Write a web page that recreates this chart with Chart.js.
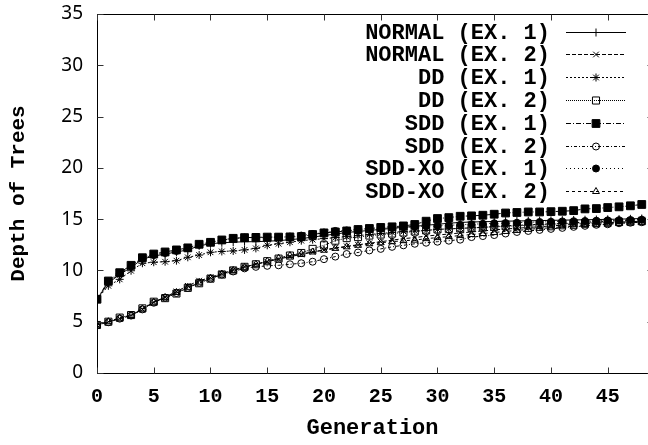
<!DOCTYPE html>
<html>
<head>
<meta charset="utf-8">
<script src="https://cdn.jsdelivr.net/npm/chart.js@4.4.1/dist/chart.umd.min.js"></script>
<style>
  html, body { margin: 0; padding: 0; background: #fff; }
  #wrap { width: 648px; height: 445px; }
</style>
</head>
<body>
<div id="wrap"><canvas id="depth-chart"></canvas></div>
<script>
var generations = [0, 1, 2, 3, 4, 5, 6, 7, 8, 9, 10, 11, 12, 13, 14, 15, 16, 17, 18, 19,
  20, 21, 22, 23, 24, 25, 26, 27, 28, 29, 30, 31, 32, 33, 34, 35, 36, 37, 38, 39,
  40, 41, 42, 43, 44, 45, 46, 47, 48];

var seriesNames = ['NORMAL (EX. 1)', 'NORMAL (EX. 2)', 'DD (EX. 1)', 'DD (EX. 2)',
  'SDD (EX. 1)', 'SDD (EX. 2)', 'SDD-XO (EX. 1)', 'SDD-XO (EX. 2)'];

var normal1 = [7.19, 8.8, 9.6, 10.3, 11.1, 11.4, 11.6, 11.8, 12.0, 12.4, 12.6, 12.7, 12.75, 12.8, 12.8, 12.85, 12.9, 13.0, 13.1, 13.25,
  13.4, 13.55, 13.7, 13.8, 13.9, 14.0, 14.1, 14.2, 14.3, 14.4, 14.5, 14.6, 14.68, 14.72, 14.75, 14.77, 14.8, 14.82, 14.84, 14.86,
  14.88, 14.9, 14.92, 14.94, 14.96, 14.98, 15.0, 15.03, 15.06];
var normal2 = [4.68, 5.0, 5.3, 5.6, 6.2, 6.9, 7.4, 7.95, 8.5, 9.0, 9.3, 9.7, 10.05, 10.35, 10.6, 10.85, 11.1, 11.35, 11.55, 11.8,
  12.0, 12.2, 12.35, 12.5, 12.65, 12.8, 12.95, 13.1, 13.2, 13.35, 13.45, 13.55, 13.65, 13.75, 13.85, 13.95, 14.05, 14.1, 14.2, 14.25,
  14.35, 14.4, 14.5, 14.55, 14.6, 14.65, 14.7, 14.75, 14.8];
var dd1 = [7.19, 8.5, 9.13, 9.97, 10.7, 10.8, 10.85, 10.95, 11.28, 11.5, 11.77, 11.85, 11.9, 12.0, 12.15, 12.45, 12.6, 12.75, 12.9, 13.0,
  13.1, 13.2, 13.3, 13.4, 13.5, 13.6, 13.7, 13.8, 13.85, 13.9, 14.0, 14.05, 14.1, 14.15, 14.2, 14.3, 14.35, 14.4, 14.45, 14.5,
  14.55, 14.6, 14.65, 14.7, 14.75, 14.8, 14.85, 14.9, 14.95];
var dd2 = [4.68, 5.0, 5.4, 5.65, 6.3, 6.95, 7.3, 7.75, 8.3, 8.75, 9.2, 9.6, 10.0, 10.35, 10.6, 10.9, 11.15, 11.45, 11.7, 12.1,
  12.45, 12.9, 13.15, 13.25, 13.4, 13.5, 13.6, 13.7, 13.8, 13.9, 14.0, 14.05, 14.1, 14.15, 14.2, 14.25, 14.3, 14.35, 14.4, 14.45,
  14.5, 14.55, 14.6, 14.62, 14.65, 14.7, 14.72, 14.75, 14.8];
var sdd1 = [7.19, 8.97, 9.78, 10.5, 11.24, 11.6, 11.8, 12.0, 12.2, 12.55, 12.74, 12.97, 13.13, 13.2, 13.22, 13.25, 13.25, 13.27, 13.3, 13.5,
  13.66, 13.75, 13.85, 13.99, 14.09, 14.19, 14.25, 14.34, 14.48, 14.8, 15.06, 15.15, 15.28, 15.32, 15.38, 15.48, 15.6, 15.65, 15.7, 15.7,
  15.73, 15.77, 15.83, 16.0, 16.03, 16.13, 16.2, 16.3, 16.43];
var sdd2 = [4.68, 4.95, 5.3, 5.6, 6.2, 6.85, 7.35, 7.8, 8.3, 8.8, 9.2, 9.6, 9.9, 10.2, 10.35, 10.45, 10.5, 10.6, 10.7, 10.85,
  11.1, 11.35, 11.6, 11.75, 11.95, 12.1, 12.3, 12.45, 12.6, 12.7, 12.8, 12.9, 13.0, 13.25, 13.35, 13.45, 13.6, 13.75, 13.85, 13.95,
  14.05, 14.15, 14.25, 14.35, 14.45, 14.5, 14.6, 14.65, 14.7];
var sddxo1 = [7.19, 8.9, 9.7, 10.4, 11.2, 11.5, 11.7, 11.9, 12.15, 12.5, 12.75, 12.95, 13.1, 13.2, 13.2, 13.2, 13.25, 13.3, 13.4, 13.55,
  13.7, 13.85, 13.9, 14.0, 14.05, 14.1, 14.15, 14.2, 14.25, 14.3, 14.35, 14.4, 14.45, 14.5, 14.55, 14.6, 14.62, 14.65, 14.7, 14.72,
  14.75, 14.78, 14.8, 14.82, 14.85, 14.88, 14.9, 14.92, 14.95];
var sddxo2 = [4.68, 5.0, 5.35, 5.6, 6.25, 6.9, 7.35, 7.85, 8.35, 8.85, 9.25, 9.65, 10.0, 10.3, 10.6, 10.9, 11.2, 11.45, 11.6, 11.8,
  11.97, 12.15, 12.3, 12.45, 12.6, 12.7, 12.8, 12.9, 12.95, 13.1, 13.2, 13.3, 13.4, 13.5, 13.6, 13.7, 13.8, 13.9, 14.0, 14.1,
  14.15, 14.25, 14.3, 14.4, 14.45, 14.5, 14.6, 14.65, 14.7];

var xTicks = [0, 5, 10, 15, 20, 25, 30, 35, 40, 45];
var yTicks = [0, 5, 10, 15, 20, 25, 30, 35];

var monoFont = '"Liberation Mono", "DejaVu Sans Mono", monospace';

function points(values) {
  return generations.map(function (g, i) { return { x: g, y: values[i] }; });
}

// style per series: marker, fill, dash
var styles = [
  { pointStyle: 'cross',    radius: 4,   fill: false, dash: [] },
  { pointStyle: 'crossRot', radius: 4,   fill: false, dash: [4, 2] },
  { pointStyle: 'star',     radius: 4,   fill: false, dash: [2, 2] },
  { pointStyle: 'rect',     radius: 5,   fill: false, dash: [1, 1] },
  { pointStyle: 'rect',     radius: 5.5, fill: true,  dash: [5, 2, 1, 2] },
  { pointStyle: 'circle',   radius: 3.5, fill: false, dash: [3, 2, 1, 2] },
  { pointStyle: 'circle',   radius: 3.5, fill: true,  dash: [1, 3] },
  { pointStyle: 'triangle', radius: 4,   fill: false, dash: [3, 3] }
];
var allValues = [normal1, normal2, dd1, dd2, sdd1, sdd2, sddxo1, sddxo2];

var datasets = allValues.map(function (vals, i) {
  var s = styles[i];
  return {
    label: seriesNames[i],
    data: points(vals),
    borderColor: '#000',
    borderWidth: 1,
    borderDash: s.dash,
    pointStyle: s.pointStyle,
    pointRadius: s.radius,
    pointBorderWidth: 1,
    pointBorderColor: '#000',
    pointBackgroundColor: s.fill ? '#000' : 'rgba(0,0,0,0)',
    tension: 0,
    fill: false
  };
});

// gnuplot-like frame, inward ticks and key
var gnuplotFrame = {
  id: 'gnuplotFrame',
  afterDatasetsDraw: function (chart) {
    var ctx = chart.ctx;
    var a = chart.chartArea;
    var xs = chart.scales.x, ys = chart.scales.y;
    var L = Math.round(a.left) + 0.5;
    var R = Math.round(xs.getPixelForValue(49)) + 0.5; // right border sits just off the canvas
    var T = Math.round(a.top) + 0.5, B = Math.round(a.bottom) + 0.5;
    ctx.save();
    ctx.strokeStyle = '#000';
    ctx.lineWidth = 1;
    ctx.setLineDash([]);
    ctx.strokeRect(L, T, R - L, B - T);
    ctx.strokeStyle = '#333';
    xs.ticks.forEach(function (t) {
      var px = Math.round(xs.getPixelForValue(t.value)) + 0.5;
      ctx.beginPath();
      ctx.moveTo(px, B); ctx.lineTo(px, B - 6);
      ctx.moveTo(px, T); ctx.lineTo(px, T + 6);
      ctx.stroke();
    });
    ys.ticks.forEach(function (t) {
      var py = Math.round(ys.getPixelForValue(t.value)) + 0.5;
      ctx.beginPath();
      ctx.moveTo(L, py); ctx.lineTo(L + 6, py);
      ctx.moveTo(R, py); ctx.lineTo(R - 6, py);
      ctx.stroke();
    });

    // key
    var textRight = 550, lineX0 = 566, lineX1 = 626, rowY = 31.5, rowH = 22.8;
    ctx.font = 'bold 22px ' + monoFont;
    ctx.textAlign = 'right';
    ctx.textBaseline = 'middle';
    chart.data.datasets.forEach(function (ds, i) {
      var y = Math.round(rowY + i * rowH) + 0.5;
      ctx.fillStyle = '#000';
      ctx.fillText(ds.label, textRight, y + 1);
      ctx.strokeStyle = '#000';
      ctx.lineWidth = 1;
      ctx.setLineDash(ds.borderDash);
      ctx.beginPath();
      ctx.moveTo(lineX0, y); ctx.lineTo(lineX1, y);
      ctx.stroke();
      ctx.setLineDash([]);
      ctx.fillStyle = ds.pointBackgroundColor;
      Chart.helpers.drawPoint(ctx, {
        pointStyle: ds.pointStyle, radius: ds.pointRadius, rotation: 0, borderWidth: 1
      }, (lineX0 + lineX1) / 2, y);
    });
    ctx.restore();
  }
};

var ctx = document.getElementById('depth-chart');

new Chart(ctx, {
  type: 'line',
  data: { datasets: datasets },
  options: {
    responsive: true,
    maintainAspectRatio: false,
    animation: false,
    layout: { autoPadding: false, padding: { top: 14, right: 0, bottom: 0, left: 0 } },
    plugins: {
      legend: { display: false },
      tooltip: { enabled: false }
    },
    scales: {
      x: {
        type: 'linear',
        min: 0,
        max: 48.55,
        grid: { display: false, drawTicks: false },
        border: { display: false },
        afterBuildTicks: function (scale) {
          scale.ticks = xTicks.map(function (v) { return { value: v }; });
        },
        ticks: {
          color: '#000',
          padding: 12,
          font: { family: monoFont, size: 20, weight: 'bold' },
          maxRotation: 0
        },
        title: {
          display: true,
          text: 'Generation',
          color: '#000',
          font: { family: monoFont, size: 22, weight: 'bold' },
          padding: { top: 0, bottom: 3 }
        },
        afterFit: function (scale) {
          scale.height = 72;
          scale.paddingLeft = 0;
          scale.paddingRight = 0;
        }
      },
      y: {
        min: 0,
        max: 35,
        grid: { display: false, drawTicks: false },
        border: { display: false },
        afterBuildTicks: function (scale) {
          scale.ticks = yTicks.map(function (v) { return { value: v }; });
        },
        ticks: {
          color: '#000',
          padding: 14,
          font: { family: '"Noto Sans", sans-serif', size: 19 }
        },
        title: {
          display: true,
          text: 'Depth of Trees',
          color: '#000',
          font: { family: monoFont, size: 21, weight: 'bold' },
          padding: { top: 6, bottom: 0 }
        },
        afterFit: function (scale) {
          scale.width = 97;
          scale.paddingTop = 0;
          scale.paddingBottom = 0;
        }
      }
    }
  },
  plugins: [gnuplotFrame]
});
</script>
</body>
</html>
